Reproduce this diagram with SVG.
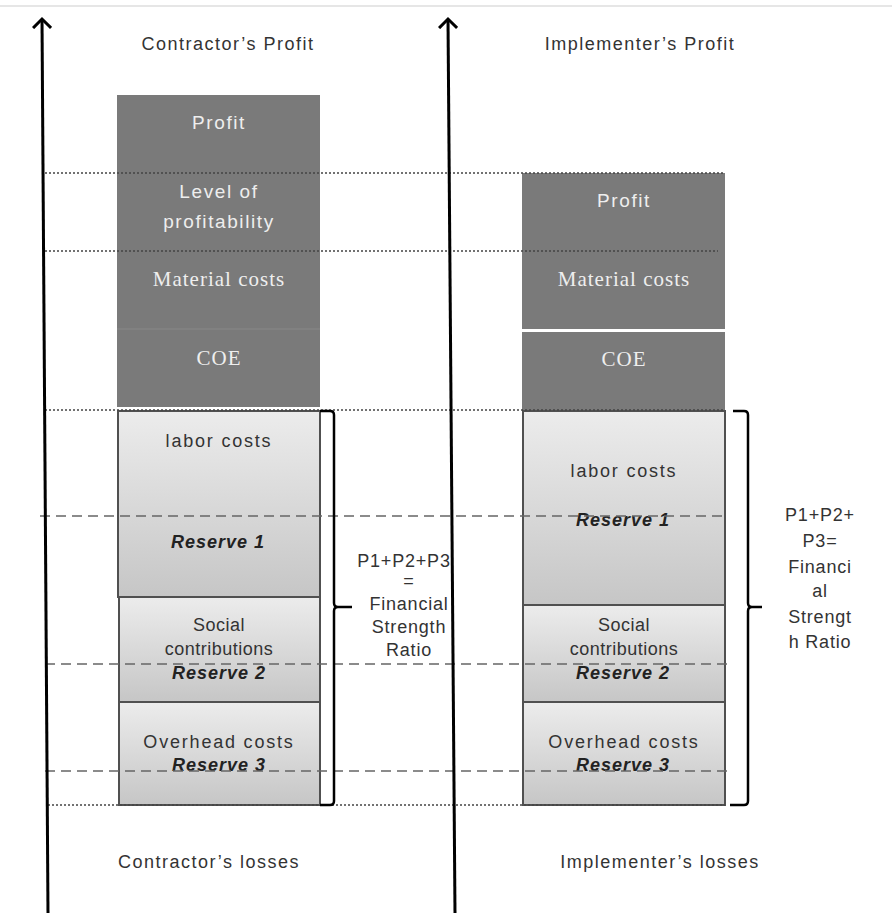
<svg xmlns="http://www.w3.org/2000/svg" width="892" height="913" viewBox="0 0 892 913">
<style>
.t{font-family:"Liberation Sans",Arial,sans-serif;font-size:18px;letter-spacing:1.5px;fill:#333;text-anchor:middle}
.p{font-family:"Liberation Sans",Arial,sans-serif;font-size:18px;letter-spacing:0.8px;fill:#333;text-anchor:middle}
.w{font-family:"Liberation Sans",Arial,sans-serif;font-size:19px;letter-spacing:1.6px;fill:#eee;text-anchor:middle}
.s{font-family:"Liberation Serif","Times New Roman",serif;font-size:21px;letter-spacing:1px;fill:#eee;text-anchor:middle}
.l{font-family:"Liberation Sans",Arial,sans-serif;font-size:18px;letter-spacing:0.5px;fill:#333;text-anchor:middle}
.lw{letter-spacing:1.8px}
.r{font-family:"Liberation Sans",Arial,sans-serif;font-size:18px;letter-spacing:1px;fill:#222;text-anchor:middle;font-weight:bold;font-style:italic}
.dark{fill:#7a7a7a}
.lite{fill:url(#g);stroke:#505050;stroke-width:2}
.dot{stroke:#444;stroke-width:1.5;stroke-dasharray:2 2;fill:none}
.dash{stroke:#666;stroke-width:1.6;stroke-dasharray:10 6;fill:none}
.br{stroke:#000;stroke-width:2.5;fill:none}
.ax{stroke:#000;stroke-width:3;fill:none}
</style>
<defs>
<linearGradient id="g" x1="0" y1="0" x2="0" y2="1">
<stop offset="0" stop-color="#ececec"/>
<stop offset="1" stop-color="#c6c6c6"/>
</linearGradient>
<marker id="ah" viewBox="0 0 20 20" refX="10" refY="10" markerWidth="20" markerHeight="20" markerUnits="userSpaceOnUse" orient="auto">
<path d="M1,1 L10,10 L1,19" stroke="#000" stroke-width="3" fill="none"/>
</marker>
</defs>
<rect width="892" height="913" fill="#fff"/>
<line x1="0" y1="6" x2="892" y2="6" stroke="#e6e6e6" stroke-width="2"/>

<g id="left-stack">
<rect class="dark" x="117" y="95" width="203" height="312"/>
<line x1="117" y1="329" x2="320" y2="329" stroke="#888" stroke-width="1"/>
<text class="w" x="219" y="129">Profit</text>
<text class="w" x="219" y="198">Level of</text>
<text class="w" x="219" y="228">profitability</text>
<text class="s" x="219" y="286">Material costs</text>
<text class="s" x="219" y="365">COE</text>
<rect class="lite" x="118" y="411" width="202" height="186"/>
<rect class="lite" x="119" y="597" width="201" height="105"/>
<rect class="lite" x="119" y="702" width="201" height="103"/>
<text class="l lw" x="219" y="447">labor costs</text>
<text class="r" x="218" y="548">Reserve  1</text>
<text class="l" x="219" y="631">Social</text>
<text class="l" x="219" y="655">contributions</text>
<text class="r" x="219" y="679">Reserve  2</text>
<text class="l lw" x="219" y="748">Overhead  costs</text>
<text class="r" x="219" y="771">Reserve  3</text>
</g>

<g id="right-stack">
<rect class="dark" x="522" y="173" width="203" height="156"/>
<rect class="dark" x="522" y="332" width="203" height="78"/>
<text class="w" x="624" y="207">Profit</text>
<text class="s" x="624" y="286">Material costs</text>
<text class="s" x="624" y="366">COE</text>
<rect class="lite" x="523" y="411" width="202" height="194"/>
<rect class="lite" x="523" y="605" width="202" height="97"/>
<rect class="lite" x="523" y="702" width="202" height="103"/>
<text class="l lw" x="624" y="477">labor costs</text>
<text class="r" x="623" y="526">Reserve  1</text>
<text class="l" x="624" y="631">Social</text>
<text class="l" x="624" y="655">contributions</text>
<text class="r" x="623" y="679">Reserve  2</text>
<text class="l lw" x="624" y="748">Overhead  costs</text>
<text class="r" x="623" y="771">Reserve  3</text>
</g>

<g id="guides">
<line class="dot" x1="45" y1="173" x2="725" y2="173"/>
<line class="dot" x1="45" y1="251" x2="718" y2="251"/>
<line class="dot" x1="45" y1="410" x2="725" y2="410"/>
<line class="dot" x1="48" y1="805" x2="725" y2="805"/>
<line class="dash" x1="40" y1="516" x2="725" y2="516"/>
<line class="dash" x1="45" y1="664" x2="733" y2="664"/>
<line class="dash" x1="45" y1="771" x2="733" y2="771"/>
</g>

<g id="connectors">
<line class="ax" x1="48" y1="913" x2="42" y2="19" marker-end="url(#ah)"/>
<line class="ax" x1="455" y1="913" x2="448" y2="19" marker-end="url(#ah)"/>
<path class="br" d="M320,411 H330 Q334,411 334,415 V603 Q334,607 338,607 H352 M338,607 Q334,607 334,611 V801 Q334,805 330,805 H320"/>
<path class="br" d="M733,411 H744 Q748,411 748,415 V603 Q748,607 752,607 H762 M752,607 Q748,607 748,611 V801 Q748,805 744,805 H730"/>
</g>

<g id="labels">
<text class="t" x="228" y="50">Contractor’s Profit</text>
<text class="t" x="640" y="50">Implementer’s Profit</text>
<text class="t" x="209" y="868">Contractor’s losses</text>
<text class="t" x="660" y="868">Implementer’s losses</text>
<text class="p" x="404" y="567">P1+P2+P3</text>
<text class="p" x="409" y="587">=</text>
<text class="p" x="409" y="610">Financial</text>
<text class="p" x="409" y="633">Strength</text>
<text class="p" x="409" y="656">Ratio</text>
<text class="p" x="820" y="521">P1+P2+</text>
<text class="p" x="820" y="547">P3=</text>
<text class="p" x="820" y="573">Financi</text>
<text class="p" x="820" y="597">al</text>
<text class="p" x="820" y="623">Strengt</text>
<text class="p" x="820" y="648">h Ratio</text>
</g>
</svg>
